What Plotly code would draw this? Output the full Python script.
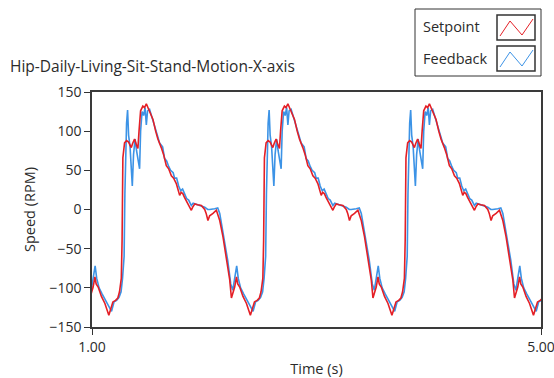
import plotly.graph_objects as go

# ---------------- data ----------------
title_text = "Hip-Daily-Living-Sit-Stand-Motion-X-axis"
series_names = ["Setpoint", "Feedback"]
x_ticks = [1.0, 5.0]
x_tick_labels = ["1.00", "5.00"]
y_ticks = [-150, -100, -50, 0, 50, 100, 150]

# one motion cycle (phase in seconds measured from the minimum), repeated by the profile
setpoint_phase = [0.000, 0.015, 0.036, 0.060, 0.080, 0.095, 0.111, 0.118, 0.125, 0.140,
                  0.158, 0.176, 0.200, 0.211, 0.229, 0.247, 0.259, 0.269, 0.283, 0.303,
                  0.318, 0.334, 0.345, 0.363, 0.393, 0.417, 0.437, 0.467, 0.488, 0.512,
                  0.533, 0.557, 0.577, 0.601, 0.613, 0.631, 0.644, 0.660, 0.675, 0.690,
                  0.711, 0.735, 0.747, 0.765, 0.791, 0.824, 0.854, 0.867, 0.883, 0.898,
                  0.928, 0.958, 0.974, 0.988, 1.017, 1.047, 1.077, 1.092, 1.104, 1.121,
                  1.137, 1.148, 1.166, 1.195, 1.226, 1.246]
setpoint_rpm = [-135, -128, -118, -116, -113, -105, -88, -40, 66, 85,
                88, 86, 79, 84, 90, 82, 78, 100, 126, 132,
                130, 135, 131, 126, 115, 100, 90, 79, 70, 56,
                52, 43, 40, 33, 28, 18, 22, 20, 15, 11,
                5, -1, 3, 7, 6, 5, 0, -5, -14, -8,
                -5, -1, -8, -14, -35, -61, -90, -113, -108, -99,
                -86, -95, -99, -111, -120, -128]

feedback_phase = [0.011, 0.024, 0.046, 0.069, 0.091, 0.109, 0.122, 0.136, 0.143, 0.149,
                  0.158, 0.167, 0.176, 0.189, 0.209, 0.220, 0.234, 0.247, 0.265, 0.274,
                  0.283, 0.296, 0.310, 0.323, 0.334, 0.345, 0.363, 0.381, 0.408, 0.434,
                  0.452, 0.479, 0.497, 0.515, 0.533, 0.550, 0.573, 0.586, 0.604, 0.622,
                  0.640, 0.657, 0.675, 0.693, 0.711, 0.735, 0.751, 0.773, 0.809, 0.854,
                  0.881, 0.898, 0.943, 0.970, 0.988, 1.005, 1.032, 1.059, 1.086, 1.104,
                  1.121, 1.139, 1.153, 1.174, 1.202, 1.228, 1.255]
feedback_rpm = [-128, -130, -118, -116, -112, -105, -88, -60, 20, 70,
                110, 127, 95, 80, 30, 70, 90, 75, 60, 52,
                100, 125, 120, 130, 108, 126, 128, 120, 105, 94,
                85, 80, 65, 62, 55, 50, 47, 40, 40, 30,
                24, 26, 20, 14, 12, 5, 8, 7, 5, 3,
                0, 0, 1, 2, -5, -20, -40, -65, -95, -103,
                -88, -72, -88, -100, -108, -115, -122]

# times (s) at which each cycle's minimum occurs
cycle_starts = [-0.111, 1.150, 2.411, 3.672, 4.933]

# ---------------- build series ----------------
def build(phases, values):
    t, v = [], []
    for s in cycle_starts:
        for p, val in zip(phases, values):
            t.append(round(s + p, 4))
            v.append(val)
    return t, v

sp_t, sp_v = build(setpoint_phase, setpoint_rpm)
fb_t, fb_v = build(feedback_phase, feedback_rpm)

RED = "#e41f26"
BLUE = "#3c93e6"
TXT = "#2b2b2b"
FONT = "Segoe UI, Open Sans, Noto Sans, sans-serif"

fig = go.Figure()
fig.add_trace(go.Scatter(x=fb_t, y=fb_v, mode="lines", name=series_names[1],
                         line=dict(color=BLUE, width=1.6), showlegend=False))
fig.add_trace(go.Scatter(x=sp_t, y=sp_v, mode="lines", name=series_names[0],
                         line=dict(color=RED, width=1.6), showlegend=False))

W, H = 554, 378
L, R, T, B = 92, 541, 92, 327

def px(x):
    return (x - L) / (R - L)

def py(y):
    return (B - y) / (B - T)

shapes = []
annotations = []

# legend box (custom, text left / swatch right like the original)
shapes.append(dict(type="rect", xref="paper", yref="paper",
                   x0=px(415), x1=px(541), y0=py(76), y1=py(9),
                   line=dict(color="#333333", width=1), fillcolor="white", layer="above"))
for i, (name, col) in enumerate(zip(series_names, [RED, BLUE])):
    yc = 27 + 31 * i
    annotations.append(dict(xref="paper", yref="paper", x=px(421), y=py(yc),
                            xanchor="left", yanchor="middle", showarrow=False,
                            text=name, font=dict(family=FONT, size=14.5, color=TXT)))
    shapes.append(dict(type="rect", xref="paper", yref="paper",
                       x0=px(497), x1=px(535), y0=py(yc + 13), y1=py(yc - 12),
                       line=dict(color="#333333", width=1.5), layer="above"))
    zx = [500, 510, 522, 533]
    zy = [yc + 9, yc - 6, yc + 8, yc - 8]
    path = "M {} {} L {} {} L {} {} L {} {}".format(
        px(zx[0]), py(zy[0]), px(zx[1]), py(zy[1]),
        px(zx[2]), py(zy[2]), px(zx[3]), py(zy[3]))
    shapes.append(dict(type="path", xref="paper", yref="paper", path=path,
                       line=dict(color=col, width=1), layer="above"))

# title
annotations.append(dict(xref="paper", yref="paper", x=px(8), y=py(66),
                        xanchor="left", yanchor="middle", showarrow=False,
                        text=title_text, font=dict(family=FONT, size=15.5, color=TXT)))

fig.update_layout(
    width=W, height=H,
    margin=dict(l=L, r=W - R, t=T, b=H - B, pad=0, autoexpand=False),
    paper_bgcolor="white", plot_bgcolor="white",
    font=dict(family=FONT, size=14, color=TXT),
    shapes=shapes, annotations=annotations,
    xaxis=dict(range=[1, 5], tickvals=x_ticks, ticktext=x_tick_labels, automargin=False,
               ticklabeloverflow="allow",
               ticks="outside", ticklen=6, tickcolor="#333333", tickwidth=1,
               showgrid=False, zeroline=False, showline=True, mirror=True,
               linecolor="#3a3a3a", linewidth=1.5,
               title=dict(text="Time (s)", font=dict(family=FONT, size=14.5, color=TXT), standoff=10),
               tickfont=dict(family=FONT, size=14, color=TXT)),
    yaxis=dict(range=[-150, 150], tickvals=y_ticks, automargin=False,
               ticklabeloverflow="allow",
               ticks="outside", ticklen=6, tickcolor="#333333", tickwidth=1,
               showgrid=False, zeroline=False, showline=True, mirror=True,
               linecolor="#3a3a3a", linewidth=1.5,
               title=dict(text="Speed (RPM)", font=dict(family=FONT, size=14.5, color=TXT), standoff=10),
               tickfont=dict(family=FONT, size=14, color=TXT)),
)

fig.write_html("out.html")
